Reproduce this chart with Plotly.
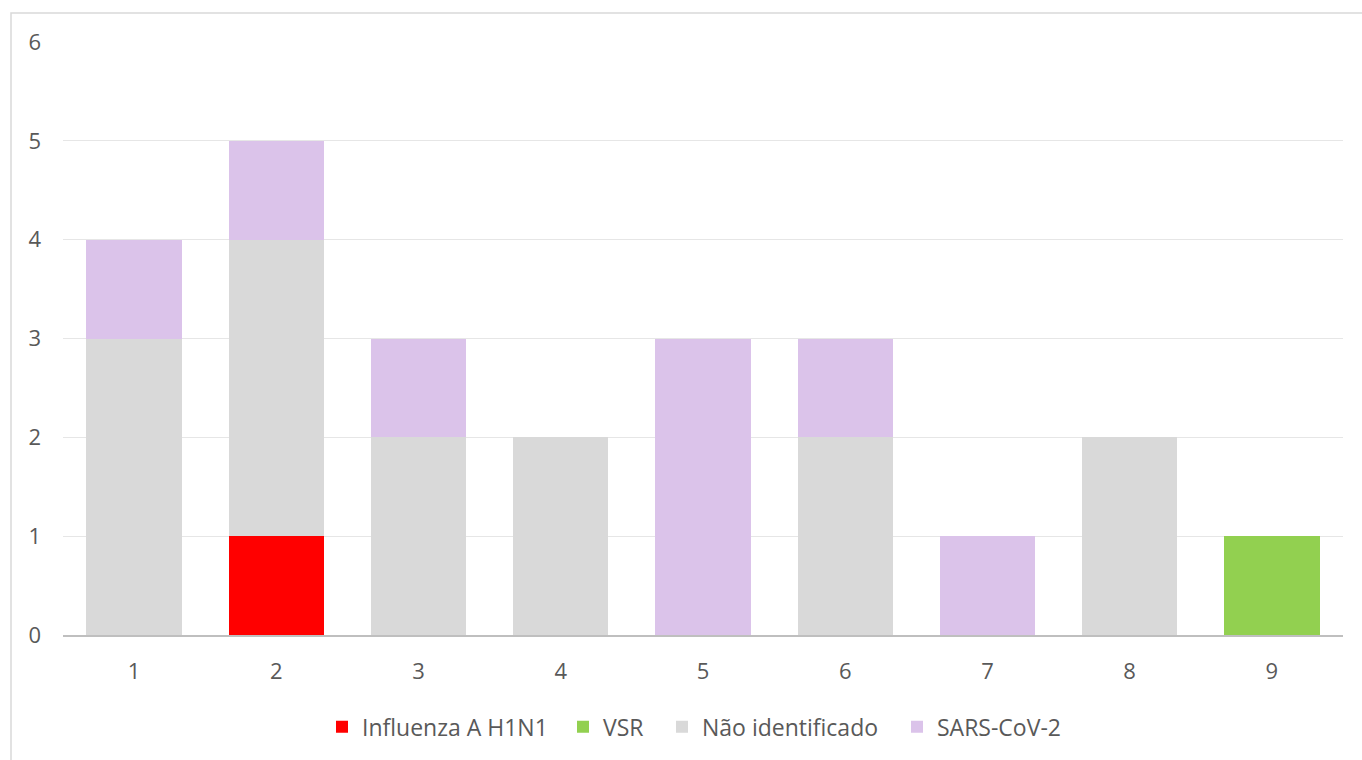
import plotly.graph_objects as go

categories = ["1", "2", "3", "4", "5", "6", "7", "8", "9"]
influenza = [0, 1, 0, 0, 0, 0, 0, 0, 0]
vsr = [0, 0, 0, 0, 0, 0, 0, 0, 1]
nao_ident = [3, 3, 2, 2, 0, 2, 0, 2, 0]
sars = [1, 1, 1, 0, 3, 1, 1, 0, 0]

series = [
    ("Influenza A H1N1", influenza, "#FF0000"),
    ("VSR", vsr, "#92D050"),
    ("Não identificado", nao_ident, "#D9D9D9"),
    ("SARS-CoV-2", sars, "#DBC3EA"),
]

L, R, T, B = 63, 19, 42, 123
W, H = 1362, 760
pw = W - L - R
legend_px = [322, 563, 662, 897]
legend_ids = ["legend", "legend2", "legend3", "legend4"]

fig = go.Figure()
for (name, vals, color), lid in zip(series, legend_ids):
    fig.add_trace(go.Bar(x=categories, y=vals, name=name, marker_color=color,
                         marker_line_width=0, legend=lid))

legend_common = dict(orientation="h", yanchor="middle", y=-0.155, xanchor="left",
                     font=dict(size=23, color="#595959"), itemwidth=30,
                     bgcolor="rgba(0,0,0,0)", borderwidth=0)
layout_legends = {}
for lid, px in zip(legend_ids, legend_px):
    layout_legends[lid] = dict(legend_common, x=(px - L) / pw)

fig.update_layout(
    barmode="stack",
    bargap=0.33,
    width=W, height=H,
    margin=dict(l=L, r=R, t=T, b=B),
    paper_bgcolor="white", plot_bgcolor="white",
    font=dict(family="Open Sans, Liberation Sans, sans-serif", color="#595959", size=20),
    showlegend=True,
    **layout_legends,
)
fig.update_yaxes(range=[0, 6], dtick=1, showgrid=True, gridcolor="#E6E6E6", gridwidth=1,
                 zeroline=False, showline=False, ticks="", ticklabelstandoff=21,
                 tickfont=dict(size=22, color="#595959"))
fig.update_xaxes(showline=True, linecolor="#BFBFBF", linewidth=2, ticks="",
                 ticklabelstandoff=16, tickfont=dict(size=22, color="#595959"))

fig.add_shape(type="rect", xref="paper", yref="paper",
              x0=(11 - L) / pw, x1=1.03, y0=-0.25, y1=(H - B - 13) / (H - T - B),
              line=dict(color="#D9D9D9", width=1.5), fillcolor="rgba(0,0,0,0)", layer="below")

fig.write_html("out.html", post_script="document.body.style.margin='0';",
               config={"displayModeBar": False})
